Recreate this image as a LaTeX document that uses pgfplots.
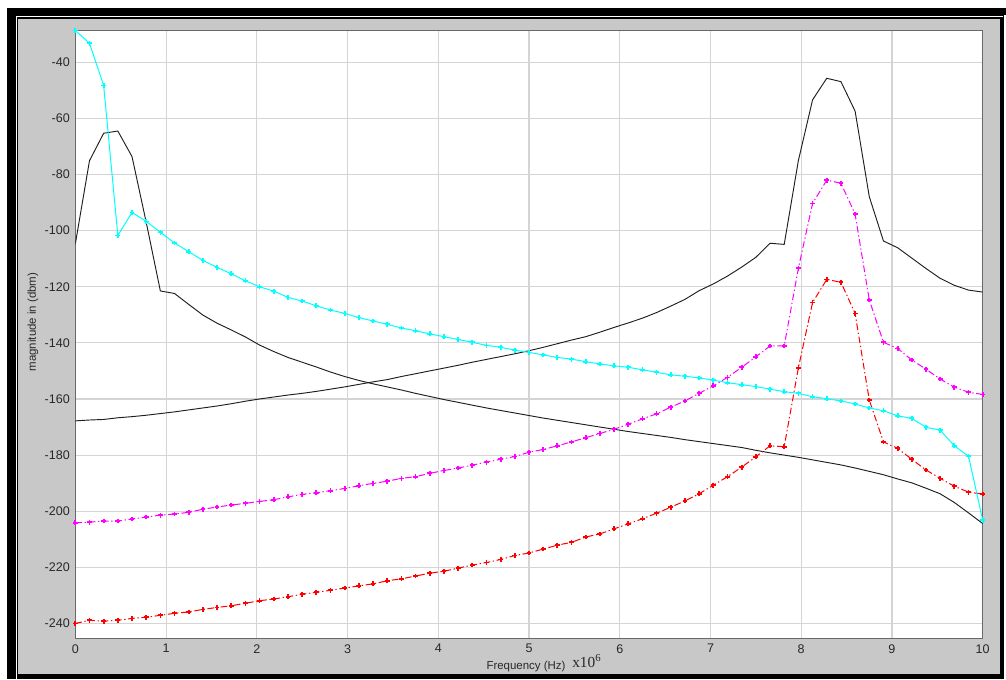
\documentclass[border=0pt]{standalone}
\usepackage{pgfplots}
\pgfplotsset{compat=1.18}
\usepackage{pgfplotstable}
\usepackage{fontspec}
\setmainfont{Liberation Sans}
\newfontfamily\seriffont{Liberation Serif}
\definecolor{framegray}{RGB}{200,200,200}
\definecolor{gridgray}{RGB}{212,212,212}
\definecolor{bordergray}{RGB}{105,105,105}
\definecolor{ticktext}{RGB}{40,40,40}
\definecolor{mycyan}{RGB}{0,255,255}
\definecolor{mymag}{RGB}{255,0,255}
\definecolor{myred}{RGB}{255,0,0}
\definecolor{myblack}{RGB}{30,30,30}

\pgfplotstableread{
x c m r ka kb
0 -28.7 -204.1 -240.0 -104.8 -167.8
0.15625 -33.2 -203.9 -238.9 -75.1 -167.5
0.3125 -48.3 -203.5 -239.2 -65.3 -167.3
0.46875 -101.7 -203.5 -238.9 -64.5 -166.7
0.625 -93.5 -202.8 -238.2 -73.6 -166.3
0.78125 -96.7 -202.1 -237.8 -97.0 -165.8
0.9375 -100.6 -201.4 -237.1 -121.5 -165.2
1.09375 -104.4 -201.0 -236.4 -122.4 -164.6
1.25 -107.5 -200.4 -235.9 -126.3 -163.9
1.40625 -110.6 -199.3 -235.0 -130.1 -163.2
1.5625 -113.1 -198.5 -234.3 -133.0 -162.5
1.71875 -115.4 -197.8 -233.7 -135.4 -161.7
1.875 -117.9 -197.2 -232.8 -137.9 -160.8
2.03125 -120.0 -196.5 -231.9 -140.8 -160.0
2.1875 -121.6 -195.9 -231.3 -143.1 -159.3
2.34375 -123.8 -194.9 -230.5 -145.2 -158.6
2.5 -125.1 -194.0 -229.6 -146.9 -158.0
2.65625 -126.8 -193.4 -228.9 -148.6 -157.3
2.8125 -128.3 -192.7 -228.2 -150.4 -156.5
2.96875 -129.5 -191.9 -227.4 -152.0 -155.7
3.125 -131.0 -190.9 -226.6 -153.4 -154.8
3.28125 -132.2 -190.1 -225.9 -154.6 -153.9
3.4375 -133.4 -189.3 -224.8 -155.7 -153.1
3.59375 -134.7 -188.3 -224.1 -156.8 -152.0
3.75 -135.7 -187.7 -223.1 -158.0 -151.0
3.90625 -136.8 -186.5 -222.1 -159.1 -150.0
4.0625 -137.8 -185.5 -221.4 -160.2 -149.0
4.21875 -138.8 -184.6 -220.3 -161.2 -148.0
4.375 -139.8 -183.6 -219.2 -162.2 -146.9
4.53125 -140.9 -182.5 -218.3 -163.2 -145.9
4.6875 -141.6 -181.5 -217.2 -164.1 -144.9
4.84375 -142.6 -180.5 -215.8 -165.0 -143.9
5 -143.4 -179.0 -214.9 -165.9 -142.8
5.15625 -144.3 -178.0 -213.5 -166.8 -141.6
5.3125 -145.2 -176.7 -212.1 -167.6 -140.3
5.46875 -145.8 -175.3 -211.1 -168.4 -139.0
5.625 -146.7 -173.8 -209.2 -169.2 -137.8
5.78125 -147.5 -172.3 -208.1 -170.0 -136.2
5.9375 -148.2 -170.8 -206.3 -170.8 -134.5
6.09375 -148.7 -169.0 -204.5 -171.6 -132.9
6.25 -149.6 -167.1 -202.7 -172.3 -131.2
6.40625 -150.5 -165.3 -200.7 -173.0 -129.2
6.5625 -151.4 -162.9 -198.6 -173.7 -126.9
6.71875 -151.9 -160.7 -196.3 -174.5 -124.5
6.875 -152.5 -158.0 -193.8 -175.2 -121.4
7.03125 -153.3 -155.3 -190.7 -175.9 -119.0
7.1875 -154.2 -152.3 -187.7 -176.6 -116.2
7.34375 -154.9 -148.7 -184.3 -177.3 -113.0
7.5 -155.6 -145.0 -180.6 -178.3 -109.5
7.65625 -156.5 -141.1 -176.7 -179.2 -104.5
7.8125 -157.4 -141.1 -177.0 -180.0 -104.9
7.96875 -158.0 -113.4 -148.9 -180.8 -75.0
8.125 -159.2 -90.3 -125.6 -181.7 -53.4
8.28125 -159.9 -82.0 -117.4 -182.6 -45.7
8.4375 -160.7 -83.1 -118.4 -183.5 -46.9
8.59375 -161.8 -94.1 -129.5 -184.6 -57.4
8.75 -163.2 -124.7 -160.4 -185.8 -87.9
8.90625 -164.2 -139.8 -175.3 -187.0 -103.7
9.0625 -166.0 -142.0 -177.6 -188.5 -106.1
9.21875 -166.9 -146.1 -181.5 -189.9 -109.8
9.375 -170.1 -149.4 -185.3 -191.8 -113.5
9.53125 -171.1 -152.9 -188.3 -193.8 -117.0
9.6875 -176.7 -155.8 -191.1 -196.9 -119.5
9.84375 -180.4 -157.6 -193.2 -200.6 -121.2
10 -203.2 -158.4 -193.9 -204.4 -121.9
}\datatable

\begin{document}
\begin{tikzpicture}
\begin{scope}[x=0.75pt,y=0.75pt]
\useasboundingbox (0,0) rectangle (1006,679);
\fill[white] (0,0) rectangle (1006,679);
\fill[black] (7,0) rectangle (1004,671);
\fill[black] (1004,664) rectangle (1006,671);
\draw[white, line width=0.8pt] (16.5,0) -- (16.5,662.5) -- (1003,662.5);
\fill[framegray] (18,5) rectangle (1000,660);
\end{scope}
\begin{axis}[
  at={(56.475pt,30.525pt)}, anchor=south west,
  width=680.55pt, height=456pt, scale only axis,
  xmin=0, xmax=10, ymin=-245.3, ymax=-28.6,
  xtick={0,1,...,10}, ytick={-240,-220,...,-40},
  grid=major,
  major grid style={draw=gridgray, line width=0.8pt},
  major tick length=0pt,
  axis background/.style={fill=white},
  axis line style={draw=bordergray, line width=1.1pt},
  /pgf/number format/assume math mode=true,
  ticklabel style={font=\fontsize{9.4}{11}\selectfont, text=ticktext},
  yticklabel style={inner sep=0pt, anchor=east, xshift=-3.9pt},
  xticklabel style={inner sep=0pt, anchor=north, yshift=-4.3pt},
  clip=true,
]
\addplot[myblack, line width=0.7pt] table[x=x, y=ka] {\datatable};
\addplot[myblack, line width=0.7pt] table[x=x, y=kb] {\datatable};
\addplot[myred, line width=0.75pt, dash pattern=on 5pt off 2pt on 1pt off 2pt,
  mark=+, mark size=1.8pt, mark options={solid, line width=1.3pt}] table[x=x, y=r] {\datatable};
\addplot[mymag, line width=0.75pt, dash pattern=on 5pt off 2pt on 1pt off 2pt,
  mark=+, mark size=1.8pt, mark options={solid, line width=1.3pt}] table[x=x, y=m] {\datatable};
\addplot[mycyan, line width=0.75pt,
  mark=+, mark size=1.8pt, mark options={solid, line width=1.3pt}] table[x=x, y=c] {\datatable};
\end{axis}
\node[font=\fontsize{8.6}{10}\selectfont, text=ticktext, anchor=base] at (394.5pt,7.5pt) {Frequency (Hz)};
\node[font=\seriffont\fontsize{11.5}{13}\selectfont, text=ticktext, anchor=base west, inner sep=0pt] at (429pt,9pt) {x10\textsuperscript{6}};
\node[font=\fontsize{8.6}{10}\selectfont, text=ticktext, rotate=90] at (24.75pt,267.75pt) {magnitude in (dbm)};
\end{tikzpicture}
\end{document}
